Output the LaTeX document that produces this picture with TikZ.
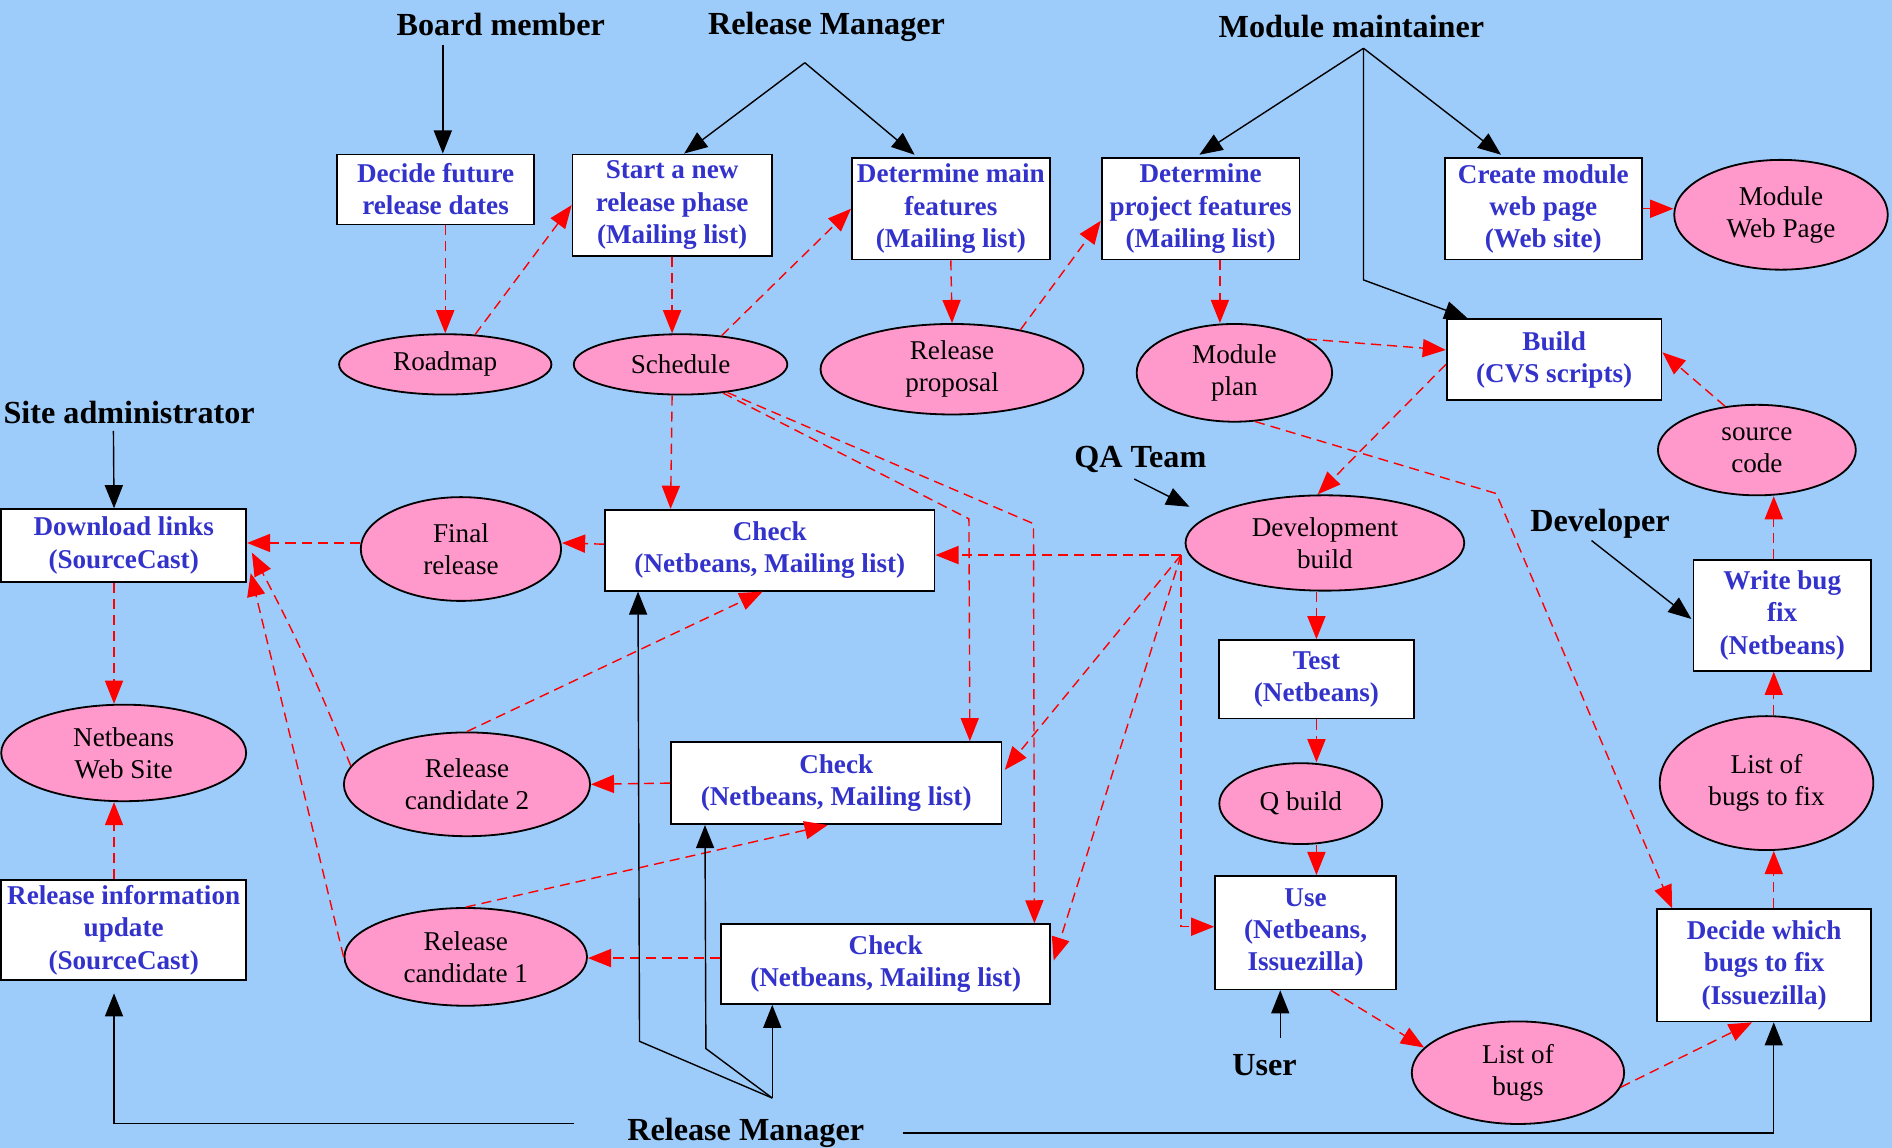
\documentclass[tikz,border=0pt]{standalone}
\usepackage{fontspec}
\setmainfont{Liberation Serif}
\usetikzlibrary{arrows.meta,shapes.geometric,calc}
\definecolor{bgblue}{RGB}{158,204,250}
\definecolor{pinkfill}{RGB}{255,153,204}
\definecolor{boxblue}{RGB}{51,51,204}
\newcommand\actfont{\fontsize{16}{18}\selectfont\bfseries}
\newcommand\boxfont{\fontsize{13.5}{16}\selectfont\bfseries}
\newcommand\ellfont{\fontsize{13.5}{16}\selectfont}
\tikzset{
  sz/.style 2 args={minimum width={#1*0.6pt}, minimum height={#2*0.6pt}},
  box/.style={draw=black, line width=0.9pt, fill=white, text=boxblue, font=\boxfont, align=center, inner sep=1pt},
  ell/.style={ellipse, draw=black, line width=0.9pt, fill=pinkfill, text=black, font=\ellfont, align=center, inner sep=0pt},
  actor/.style={font=\actfont, text=black, inner sep=1pt},
  redarr/.style={draw=red, line width=0.7pt, dash pattern=on 5pt off 3pt, -{Triangle[length=11.5pt,width=9pt]}},
  blkarr/.style={draw=black, line width=0.7pt, -{Triangle[length=11.5pt,width=9pt]}},
}
\begin{document}
\begin{tikzpicture}[x=0.6pt,y=-0.6pt]
\useasboundingbox (0,0) rectangle (1568,951);
\fill[bgblue] (0,0) rectangle (1568,951);

% boxes
\node[box, sz={163}{58}] (dfr) at (361,157) {Decide future\\release dates};
\node[box, sz={165}{84}] (snr) at (557,170) {Start a new\\release phase\\(Mailing list)};
\node[box, sz={164}{84}] (dmf) at (788,173) {Determine main\\features\\(Mailing list)};
\node[box, sz={164}{84}] (dpf) at (995,173) {Determine\\project features\\(Mailing list)};
\node[box, sz={163}{84}] (cmw) at (1279,173) {Create module\\web page\\(Web site)};
\node[box, sz={178}{67}] (build) at (1288,298) {Build\\(CVS scripts)};
\node[box, sz={203}{60}] (dl) at (102.5,452) {Download links\\(SourceCast)};
\node[box, sz={273}{67}] (chk1) at (638,456) {Check\\(Netbeans, Mailing list)};
\node[box, sz={274}{68}] (chk2) at (693,649) {Check\\(Netbeans, Mailing list)};
\node[box, sz={273}{66}] (chk3) at (734,799) {Check\\(Netbeans, Mailing list)};
\node[box, sz={203}{83}] (riu) at (102.5,771) {Release information\\update\\(SourceCast)};
\node[box, sz={162}{65}] (test) at (1091,563) {Test\\(Netbeans)};
\node[box, sz={150}{94}] (use) at (1082,773) {Use\\(Netbeans,\\Issuezilla)};
\node[box, sz={147}{92}] (wbf) at (1477,510) {Write bug\\fix\\(Netbeans)};
\node[box, sz={177}{93}] (dwb) at (1462,800) {Decide which\\bugs to fix\\(Issuezilla)};

% ellipses
\node[ell, sz={176}{50}] (roadmap) at (369,302) {Roadmap};
\node[ell, sz={177}{50}] (sched) at (564,302) {Schedule};
\node[ell, sz={218}{75}] (relprop) at (789,306) {Release\\proposal};
\node[ell, sz={162}{81}] (modplan) at (1023,309) {Module\\plan};
\node[ell, sz={177}{91}] (modweb) at (1476,178) {Module\\Web Page};
\node[ell, sz={164}{75}] (src) at (1456,373) {source\\code};
\node[ell, sz={166}{86}] (final) at (382,455) {Final\\release};
\node[ell, sz={231}{79}] (devb) at (1098,450) {Development\\build};
\node[ell, sz={203}{80}] (nws) at (102.5,624) {Netbeans\\Web Site};
\node[ell, sz={204}{86}] (rc2) at (387,650) {Release\\candidate 2};
\node[ell, sz={201}{81}] (rc1) at (386,793) {Release\\candidate 1};
\node[ell, sz={135}{67}] (qb) at (1078,666) {Q build};
\node[ell, sz={177}{111}] (lbf) at (1464,649) {List of\\bugs to fix};
\node[ell, sz={176}{85}] (lb) at (1258,889) {List of\\bugs};

% actors
\node[actor] (bm) at (415,20) {Board member};
\node[actor] (rm1) at (685,22) {Release Manager};
\node[actor] (mm) at (1120,22) {Module maintainer};
\node[actor] (sa) at (107,342) {Site administrator};
\node[actor] (qa) at (945,381) {QA Team};
\node[actor] (dev) at (1326,434) {Developer};
\node[actor] (usr) at (1048,883) {User};
\node[actor] (rm2) at (618,939) {Release Manager};

% red dashed connectors
\draw[redarr] (roadmap.north |- dfr.south) -- (roadmap.north);
\draw[redarr] (roadmap.45) -- (snr.west);
\draw[redarr] (snr.south) -- (snr.south |- sched.north);
\draw[redarr] (sched.35) -- (dmf.west);
\draw[redarr] (dmf.south) -- (relprop.north);
\draw[redarr] (relprop.30) -- ($(dpf.west)+(0,10)$);
\draw[redarr] ($(dpf.south)+(16,0)$) -- ($(modplan.north)+(-12,0)$);
\draw[redarr] (modplan.25) -- ($(build.west)+(0,-8)$);
\coordinate (kink) at (1240,409);
\draw[redarr] (modplan.-67) -- (kink) -- ($(dwb.north west)+(13,0)$);
\draw[redarr] (cmw.east) -- (cmw.east -| modweb.west);
\draw[redarr] ($(build.west)+(0,4)$) -- ($(devb.north)+(-6,0)$);
\draw[redarr] (src.126) -- ($(build.east)+(0,-6)$);
\draw[redarr] ($(wbf.north)+(-7,0)$) -- ($(src.south)+(14,0)$);
\draw[redarr] ($(lbf.north)+(6,0)$) -- ($(wbf.south)+(-7,0)$);
\draw[redarr] ($(dwb.north)+(8,0)$) -- ($(lbf.south)+(6,0)$);
\draw[redarr] (lb.-8) -- ($(dwb.south)+(-10,0)$);
\draw[redarr] ($(use.south)+(21,0)$) -- (lb.165);
\draw[redarr] (test.north |- devb.south) -- (test.north);
\draw[redarr] (test.south) -- (test.south |- qb.north);
\draw[redarr] (test.south |- qb.south) -- (test.south |- use.north);
\coordinate (hub) at ($(devb.west)+(-3,10)$);
\draw[redarr] (hub) -- (hub -| chk1.east);
\draw[redarr] (hub) -- ($(chk2.east)+(2,-11)$);
\draw[redarr] (hub) -- ($(chk3.east)+(2,-3)$);
\draw[redarr] (hub) |- ($(use.west)+(0,-5)$);
\draw[redarr] ($(sched.south)+(-7,0)$) -- ($(chk1.north west)+(55,0)$);
\coordinate (k2) at (803,430);
\coordinate (k3) at (856.5,434);
\draw[redarr] (sched.-34) -- (k2) -- ($(chk2.north east)+(-27,0)$);
\draw[redarr] (sched.-31) -- (k3) -- ($(chk3.north east)+(-14,0)$);
\draw[redarr] ($(chk1.west)+(0,-5)$) -- ($(final.east)+(0,-5)$);
\coordinate (fw) at ($(final.west)+(0,-5)$);
\draw[redarr] (fw) -- (fw -| dl.east);
\draw[redarr] (rc2.171) to[bend right=3] ($(dl.east)+(4,6)$);
\draw[redarr] (rc1.west) -- ($(dl.east)+(3,23)$);
\draw[redarr] (rc2.north) -- ($(chk1.south)+(-6,0)$);
\draw[redarr] (chk2.west) -- (rc2.east);
\draw[redarr] (rc1.north) -- ($(chk2.south)+(-7,0)$);
\draw[redarr] ($(chk3.west)+(0,-5)$) -- ($(rc1.east)+(0,1)$);
\draw[redarr] ($(dl.south)+(-8,0)$) -- ($(nws.north)+(-8,0)$);
\draw[redarr] ($(riu.north)+(-8,0)$) -- ($(nws.south)+(-8,0)$);

% black connectors
\draw[blkarr] ($(bm)+(-48,17)$) -- ($(dfr.north)+(6,0)$);
\coordinate (rmapex) at ($(rm1)+(-18,30)$);
\draw[blkarr] (rmapex) -- ($(snr.north)+(10,0)$);
\draw[blkarr] (rmapex) -- ($(dmf.north)+(-30,-2)$);
\coordinate (mmapex) at ($(mm)+(10,18)$);
\coordinate (mmbend) at ($(mm)+(10,210)$);
\draw[blkarr] (mmapex) -- ($(dpf.north)+(-1,-2)$);
\draw[blkarr] (mmapex) -- ($(cmw.north)+(-35,-2)$);
\draw[blkarr] (mmapex) -- (mmbend) -- ($(build.north west)+(18,0)$);
\draw[blkarr] ($(sa)+(-13,15)$) -- ($(dl.north)+(-8,0)$);
\draw[blkarr] ($(qa)+(-5,16)$) -- ($(devb.west)+(4,-30)$);
\draw[blkarr] ($(dev)+(-7,14)$) -- ($(wbf.west)+(-1,3)$);
\draw[blkarr] ($(usr)+(13,-23)$) -- ($(use.south)+(-21,0)$);
\coordinate (rmb) at ($(rm2)+(22,-29)$);
\draw[blkarr] (rmb) -- ($(rm2)+(-88,-76)$) -- ($(chk1.south west)+(28,0)$);
\draw[blkarr] (rmb) -- ($(rm2)+(-33,-70)$) -- ($(chk2.south west)+(29,0)$);
\draw[blkarr] (rmb) -- (rmb |- chk3.south);
\draw[blkarr] ($(rm2)+(-142,-8)$) -| ($(riu.south)+(-8,10)$);
\draw[blkarr] ($(rm2)+(130,0)$) -| ($(dwb.south)+(8,0)$);
\end{tikzpicture}
\end{document}
